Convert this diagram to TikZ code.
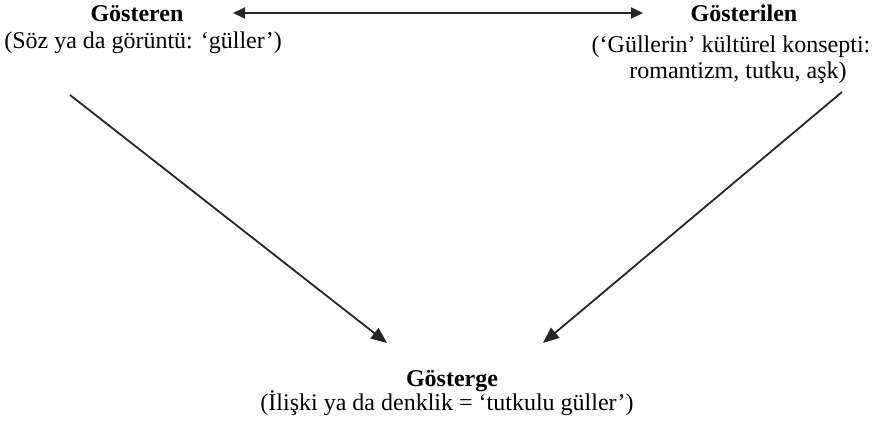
\documentclass[tikz,border=0pt]{standalone}
\usepackage{fontspec}
\setmainfont{Liberation Serif}
\usetikzlibrary{arrows.meta}
\begin{document}
\begin{tikzpicture}[x=1pt,y=-1pt,
  lbl/.style={inner sep=0pt,anchor=base,font=\fontsize{24}{28}\selectfont},
  ttl/.style={lbl,font=\fontsize{24}{28}\selectfont\bfseries},
  ln/.style={line width=1.8pt,draw=black!85},
  arr/.style={ln,-{Triangle[length=16pt,width=13pt]}}]
\useasboundingbox (0,0) rectangle (873,426);
\node[ttl] (sr) at (137,21) {Gösteren};
\node[lbl] (sr2) at (143,48) {(Söz ya da görüntü: ‘güller’)};
\node[ttl] (sd) at (744,21) {Gösterilen};
\node[lbl] (sd2) at (731,52) {(‘Güllerin’ kültürel konsepti:};
\node[lbl] (sd3) at (738,78) {romantizm, tutku, aşk)};
\node[ttl] (sg) at (452,386) {Gösterge};
\node[lbl] (sg2) at (447,410) {(İlişki ya da denklik = ‘tutkulu güller’)};
\coordinate (a1) at (233,13);
\coordinate (a2) at (643,13);
\draw[ln,{Triangle[length=12pt,width=11pt]}-{Triangle[length=12pt,width=11pt]}] (a1) -- (a2);
\coordinate (l1) at (70,95);
\coordinate (l2) at (387,343);
\coordinate (r1) at (842,92);
\coordinate (r2) at (543,343);
\draw[arr] (l1) -- (l2);
\draw[arr] (r1) -- (r2);
\end{tikzpicture}
\end{document}
